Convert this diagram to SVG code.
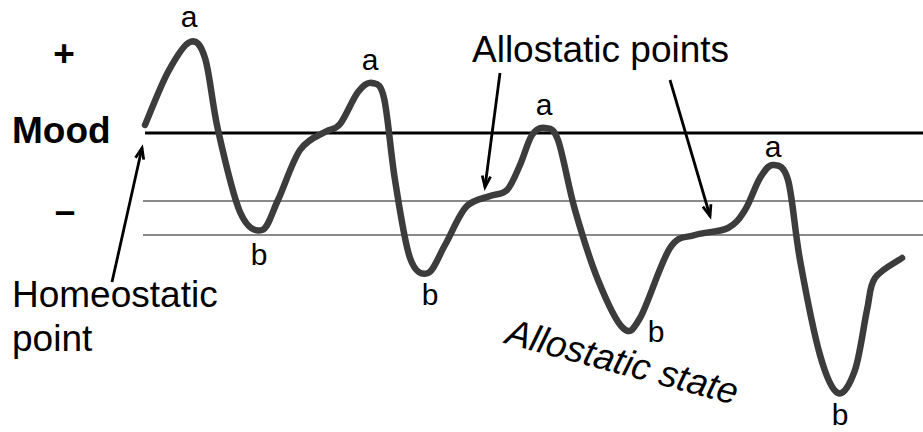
<svg xmlns="http://www.w3.org/2000/svg" width="923" height="432" viewBox="0 0 923 432">
<style>
.lbl{font-family:"Liberation Sans",Arial,sans-serif;fill:#000}
.big{font-size:37px}
.pt{font-size:30px}
.bold{font-weight:bold}
.base{stroke:#000;stroke-width:3;fill:none}
.ref{stroke:#8a8a8a;stroke-width:2.2;fill:none}
.curve{stroke:#3c3c3c;stroke-width:6.5;fill:none;stroke-linecap:round;stroke-linejoin:round}
.arr{stroke:#000;stroke-width:2.8;fill:none;marker-end:url(#ah)}
</style>
<defs>
<marker id="ah" markerUnits="userSpaceOnUse" viewBox="-14 -8 18 16" refX="0" refY="0" markerWidth="18" markerHeight="16" orient="auto">
<path d="M-11,-4.2 L0,0 L-11,4.2" stroke="#000" stroke-width="2.8" fill="none" stroke-linejoin="miter"/>
</marker>
</defs>
<g id="axes">
<line class="base" x1="145" y1="133" x2="923" y2="133"/>
<line class="ref" x1="143" y1="201" x2="923" y2="201"/>
<line class="ref" x1="143" y1="235" x2="923" y2="235"/>
<text class="lbl big bold" x="64" y="66" text-anchor="middle">+</text>
<text class="lbl big bold" x="12" y="143">Mood</text>
<text class="lbl big bold" x="65" y="223" text-anchor="middle">–</text>
</g>
<g id="mood-curve">
<path class="curve" d="M145,125 C148.8,116.2 160.5,85.8 168,72 C175.5,58.2 183.8,44.3 190,42 C196.2,39.7 200.3,43.3 205,58 C209.7,72.7 212.2,104.3 218,130 C223.8,155.7 232.7,195.3 240,212 C247.3,228.7 255.7,232 262,230 C268.3,228 271.7,213.3 278,200 C284.3,186.7 292.2,161.3 300,150 C307.8,138.7 318.3,136 325,132 C331.7,128 334.5,130.7 340,124 C345.5,117.3 352.7,98.8 358,92 C363.3,85.2 367.7,82 372,83 C376.3,84 380.2,81.8 384,98 C387.8,114.2 390.7,153.3 395,180 C399.3,206.7 404.5,242.5 410,258 C415.5,273.5 422.2,275.2 428,273 C433.8,270.8 438.7,256 445,245 C451.3,234 458.5,215.2 466,207 C473.5,198.8 483.2,198.8 490,196 C496.8,193.2 502,195.2 507,190 C512,184.8 515.8,174.2 520,165 C524.2,155.8 527.8,141.2 532,135 C536.2,128.8 540.7,127.2 545,128 C549.3,128.8 553,126.3 558,140 C563,153.7 568.3,186.7 575,210 C581.7,233.3 590,260.3 598,280 C606,299.7 616,321.7 623,328 C630,334.3 632.2,331.3 640,318 C647.8,304.7 660.8,261.8 670,248 C679.2,234.2 685.3,238.3 695,235 C704.7,231.7 719.7,232.2 728,228 C736.3,223.8 739.7,218.3 745,210 C750.3,201.7 755.3,185.5 760,178 C764.7,170.5 768.3,164.7 773,165 C777.7,165.3 783.5,164.2 788,180 C792.5,195.8 794.7,230.8 800,260 C805.3,289.2 813.7,332.8 820,355 C826.3,377.2 832.2,390.5 838,393 C843.8,395.5 850.2,383.8 855,370 C859.8,356.2 863.7,325.3 867,310 C870.3,294.7 869.2,286.7 875,278 C880.8,269.3 897.5,261.3 902,258"/>
</g>
<g id="peak-labels">
<text class="lbl pt" x="189" y="27" text-anchor="middle">a</text>
<text class="lbl pt" x="370" y="70" text-anchor="middle">a</text>
<text class="lbl pt" x="544" y="115" text-anchor="middle">a</text>
<text class="lbl pt" x="773" y="157" text-anchor="middle">a</text>
<text class="lbl pt" x="259" y="265" text-anchor="middle">b</text>
<text class="lbl pt" x="430" y="305" text-anchor="middle">b</text>
<text class="lbl pt" x="656" y="342" text-anchor="middle">b</text>
<text class="lbl pt" x="840" y="425" text-anchor="middle">b</text>
</g>
<g id="homeostatic-point">
<text class="lbl big" x="12" y="307">Homeostatic</text>
<text class="lbl big" x="12" y="351">point</text>
</g>
<g id="allostatic-points">
<text class="lbl big" x="472" y="62">Allostatic points</text>
</g>
<g id="allostatic-state">
<text class="lbl big" font-style="italic" transform="translate(504,343) rotate(15)">Allostatic state</text>
</g>
<g id="connectors">
<line class="arr" x1="500" y1="73" x2="485" y2="187"/>
<line class="arr" x1="670" y1="80" x2="710" y2="216"/>
<line class="arr" x1="112" y1="282" x2="142" y2="148"/>
</g>
</svg>
